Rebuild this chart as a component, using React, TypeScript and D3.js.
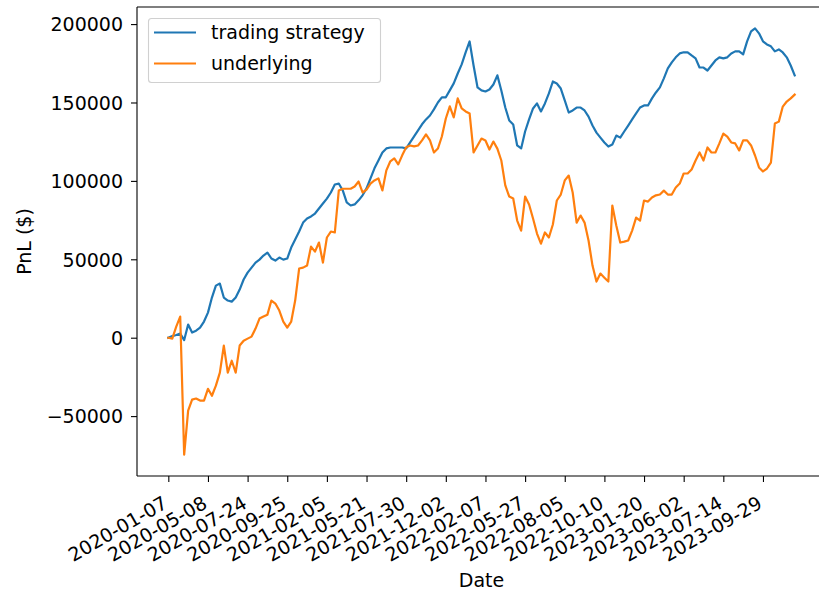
import React, { useEffect, useRef } from "react";
import * as d3 from "d3";

// x tick labels (one every 10 observations)
const tickLabels = [
  "2020-01-07", "2020-05-08", "2020-07-24", "2020-09-25",
  "2021-02-05", "2021-05-21", "2021-07-30", "2021-12-02",
  "2022-02-07", "2022-05-27", "2022-08-05", "2022-10-10",
  "2023-01-20", "2023-06-02", "2023-07-14", "2023-09-29",
];
const tickIndex = [0, 10, 20, 30, 40, 50, 60, 70, 80, 90, 100, 110, 120, 130, 140, 150];

const yTicks = [-50000, 0, 50000, 100000, 150000, 200000];

// cumulative PnL of the trading strategy
const strategyPnl = [
  0, 1000, 1700, 2600, -1500, 8400, 3300, 4500, 6400, 10300,
  16000, 25600, 33200, 34500, 25600, 23700, 23000, 25600, 30700, 37100,
  41500, 44700, 47900, 49800, 52400, 54300, 50500, 49200, 51100, 49800,
  50500, 57500, 62600, 67700, 73400, 76000, 77300, 79200, 82400, 85600,
  88700, 92600, 97700, 98300, 93900, 86300, 84300, 85000, 87600, 90800,
  95200, 101600, 108000, 113000, 118100, 120700, 121300, 121300, 121300, 121300,
  120700, 124500, 128400, 132200, 136100, 139200, 141700, 145600, 150000, 153300,
  153300, 157700, 162200, 168500, 174300, 181900, 188900, 173600, 159600, 157700,
  157000, 158300, 161500, 167300, 157700, 146800, 138500, 136000, 122600, 120700,
  131500, 139200, 146200, 149400, 144300, 149400, 155800, 163400, 162100, 158900,
  151300, 143600, 144900, 146800, 146800, 144900, 141000, 135300, 130800, 127600,
  124500, 121900, 123200, 128900, 127600, 131500, 135300, 139200, 143000, 146800,
  148100, 148100, 152600, 156400, 159600, 165400, 171700, 175600, 178800, 181300,
  182000, 182000, 180000, 178100, 172300, 172300, 170400, 173600, 176800, 178800,
  178100, 178800, 181300, 182600, 182600, 180700, 189000, 195300, 197300, 194100,
  189000, 187000, 185800, 182600, 183800, 181900, 178800, 173600, 167300,
];

// cumulative PnL of buy-and-hold underlying
const underlyingPnl = [
  0, -600, 7100, 13500, -74600, -46500, -39500, -38800, -40100, -40100,
  -32600, -37000, -30600, -22300, -5000, -22300, -14700, -22300, -5000, -1900,
  -600, 700, 5800, 12200, 13500, 14700, 23700, 21800, 17300, 10300,
  6400, 10300, 23700, 44100, 44700, 46000, 58100, 54900, 60700, 47900,
  63900, 67700, 67100, 93800, 95000, 95000, 95000, 96400, 99600, 92600,
  94500, 98300, 100300, 101600, 93900, 106700, 112500, 114400, 110500, 116300,
  121400, 122600, 122000, 122600, 125800, 129600, 125800, 118100, 120600, 128300,
  139800, 147500, 140500, 152600, 146200, 144300, 143000, 118100, 122600, 127000,
  125800, 120000, 125100, 120600, 113000, 97100, 90000, 88800, 74700, 68300,
  90000, 84900, 76000, 66400, 60000, 67100, 63900, 72200, 87500, 91300,
  100300, 103400, 92600, 73400, 77900, 73400, 62000, 46000, 35800, 40900,
  38300, 35800, 84300, 71500, 60700, 61300, 62000, 68300, 76600, 74700,
  87500, 86800, 89400, 90800, 91300, 93800, 91300, 91300, 95800, 98300,
  104700, 104700, 107300, 113000, 118100, 113000, 121300, 118100, 118100, 123900,
  130200, 128300, 124500, 123900, 119400, 125800, 125800, 122600, 116200, 108600,
  106000, 107900, 111700, 136600, 137800, 147400, 150600, 152600, 155000,
];

const seriesNames = ["trading strategy", "underlying"];
const seriesColors = ["#1f77b4", "#ff7f0e"];

const font = "DejaVu Sans, sans-serif";
const fontSize = "19px";

export default function App() {
  const ref = useRef<SVGSVGElement>(null);

  useEffect(() => {
    const width = 819, height = 593;
    const left = 137, right = 826, top = 7, bottom = 476;

    const svg = d3.select(ref.current);
    svg.selectAll("*").remove();
    svg.attr("width", width).attr("height", height);

    const series = [strategyPnl, underlyingPnl];
    const n = strategyPnl.length;

    // matplotlib-like 5% margins
    const xPad = (n - 1) * 0.05;
    const x = d3.scaleLinear().domain([-xPad, n - 1 + xPad]).range([left, right]);

    const all = series.flat();
    const yMin = d3.min(all) as number, yMax = d3.max(all) as number;
    const yPad = (yMax - yMin) * 0.05;
    const y = d3.scaleLinear().domain([yMin - yPad, yMax + yPad]).range([bottom, top]);

    // lines
    const line = d3.line<number>()
      .x((d, i) => x(i))
      .y((d) => y(d));

    series.forEach((data, k) => {
      svg.append("path")
        .datum(data)
        .attr("fill", "none")
        .attr("stroke", seriesColors[k])
        .attr("stroke-width", 2.2)
        .attr("stroke-linejoin", "round")
        .attr("stroke-linecap", "square")
        .attr("d", line);
    });

    // x axis
    const gx = svg.append("g")
      .attr("transform", "translate(0," + bottom + ")")
      .call(d3.axisBottom(x)
        .tickValues(tickIndex)
        .tickFormat((d, i) => tickLabels[i])
        .tickSize(6));
    gx.select(".domain").remove();
    gx.selectAll(".tick line").attr("stroke", "#000").attr("stroke-width", 1.1);
    gx.selectAll(".tick text")
      .attr("x", 0).attr("y", 0).attr("dy", 0)
      .attr("text-anchor", "end")
      .attr("transform", "translate(0,31) rotate(-30)")
      .attr("fill", "#000")
      .style("font-family", font)
      .style("font-size", fontSize);

    // y axis
    const gy = svg.append("g")
      .attr("transform", "translate(" + left + ",0)")
      .call(d3.axisLeft(y).tickValues(yTicks).tickSize(6).tickPadding(8).tickFormat(d3.format("d")));
    gy.select(".domain").remove();
    gy.selectAll(".tick line").attr("stroke", "#000").attr("stroke-width", 1.1);
    gy.selectAll(".tick text")
      .attr("dy", "0.36em")
      .attr("fill", "#000")
      .style("font-family", font)
      .style("font-size", fontSize);

    // spines
    const spine = svg.append("g").attr("stroke", "#000").attr("stroke-width", 1.1);
    spine.append("line").attr("x1", left).attr("x2", left).attr("y1", top).attr("y2", bottom);
    spine.append("line").attr("x1", left).attr("x2", right).attr("y1", bottom).attr("y2", bottom);
    spine.append("line").attr("x1", left).attr("x2", right).attr("y1", top).attr("y2", top);
    spine.append("line").attr("x1", right).attr("x2", right).attr("y1", top).attr("y2", bottom);

    // axis labels
    svg.append("text")
      .attr("x", (left + right) / 2)
      .attr("y", 587)
      .attr("text-anchor", "middle")
      .style("font-family", font)
      .style("font-size", fontSize)
      .text("Date");

    svg.append("text")
      .attr("transform", "translate(31," + (top + bottom) / 2 + ") rotate(-90)")
      .attr("text-anchor", "middle")
      .style("font-family", font)
      .style("font-size", fontSize)
      .text("PnL ($)");

    // legend
    const legend = svg.append("g");
    legend.append("rect")
      .attr("x", 148.5).attr("y", 18.5)
      .attr("width", 232).attr("height", 64)
      .attr("rx", 3)
      .attr("fill", "#fff").attr("fill-opacity", 0.8)
      .attr("stroke", "#d0d0d0").attr("stroke-width", 1.1);

    seriesNames.forEach((name, k) => {
      const ly = 32.5 + k * 31;
      legend.append("line")
        .attr("x1", 154).attr("x2", 196)
        .attr("y1", ly).attr("y2", ly)
        .attr("stroke", seriesColors[k])
        .attr("stroke-width", 2.2);
      legend.append("text")
        .attr("x", 211).attr("y", ly)
        .attr("dy", "0.36em")
        .style("font-family", font)
        .style("font-size", fontSize)
        .text(name);
    });
  }, []);

  return (
    <svg ref={ref} width={819} height={593}
      style={{ position: "absolute", left: 0, top: 0, background: "#fff" }} />
  );
}
